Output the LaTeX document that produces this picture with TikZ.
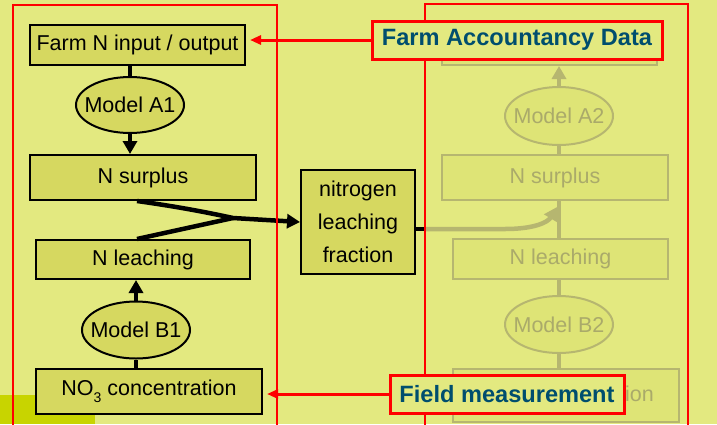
\documentclass[tikz,border=0pt]{standalone}
\usepackage{fontspec}
\setmainfont{Liberation Sans}
\usetikzlibrary{arrows.meta,shapes.geometric,calc}

\definecolor{bgcol}{RGB}{227,233,128}
\definecolor{cornercol}{RGB}{200,212,0}
\definecolor{boxcol}{RGB}{214,216,96}
\definecolor{fadeline}{RGB}{182,182,112}
\definecolor{fadetext}{RGB}{170,170,106}
\definecolor{fadefill}{RGB}{222,228,118}
\definecolor{labeltext}{RGB}{0,78,110}
\definecolor{framered}{RGB}{255,0,0}

% chemical subscript, set low as in the slide font
\newcommand{\lowsub}[1]{\raisebox{-7pt}{\fontsize{14}{14}\selectfont #1}}

\begin{document}
\begin{tikzpicture}[x=1pt,y=-1pt,
  every node/.style={font=\fontsize{21.5}{33}\selectfont, inner sep=0pt},
  box/.style={draw=black, line width=2pt, fill=boxcol, rectangle},
  oval/.style={draw=black, line width=2pt, fill=boxcol, ellipse},
  conn/.style={line width=4.5pt, draw=black},
  arr/.style={conn, -{Triangle[length=13pt,width=14pt]}},
  fbox/.style={draw=fadeline, line width=2pt, fill=fadefill, text=fadetext, rectangle},
  foval/.style={fbox, ellipse},
  fconn/.style={line width=4.5pt, draw=fadeline},
  farr/.style={fconn, -{Triangle[length=13pt,width=14pt]}},
  frame/.style={draw=framered, line width=2pt},
  tag/.style={draw=framered, line width=3pt, fill=bgcol, text=labeltext,
    font=\fontsize{23.6}{28}\selectfont\bfseries},
  tagarr/.style={draw=framered, line width=3pt,
    -{Triangle[length=11pt,width=9pt]}, shorten >=4pt},
]
\useasboundingbox (0,0) rectangle (717,424);
\clip (0,0) rectangle (717,424);

% background
\fill[bgcol] (0,0) rectangle (717,424);
\fill[cornercol] (0,395) rectangle (95,424);

% left column
\node[box, minimum width=215pt, minimum height=40pt] (farm) at (137.5,45) {Farm N input / output};
\node[oval, minimum width=108pt, minimum height=56pt] (mA1) at (130,105) {\makebox[0pt]{Model A1}};
\node[box, minimum width=226pt, minimum height=45pt] (nsur) at (143,177.5) {N surplus};
\node[box, minimum width=214pt, minimum height=39pt] (nlea) at (143,259.5) {N leaching};
\node[oval, minimum width=108pt, minimum height=57pt] (mB1) at (136,330) {\makebox[0pt]{Model B1}};
\node[box, minimum width=226pt, minimum height=45pt] (no3) at (149,391.5) {NO\lowsub{3} concentration};

% leaching fraction
\node[box, minimum width=114pt, minimum height=104pt, align=center] (frac) at (358,222)
  {nitrogen\\leaching\\fraction};

% right column (faded)
\node[fbox, minimum width=215pt, minimum height=35pt] (ftop) at (549.5,47.5) {};
\node[foval, minimum width=108pt, minimum height=58pt] (mA2) at (559,116) {\makebox[0pt]{Model A2}};
\node[fbox, minimum width=226pt, minimum height=45pt] (fsur) at (555,177.5) {N surplus};
\node[fbox, minimum width=215pt, minimum height=40pt] (flea) at (560.5,259) {N leaching};
\node[foval, minimum width=108pt, minimum height=57pt] (mB2) at (559,324.5) {\makebox[0pt]{Model B2}};
\node[fbox, minimum width=226pt, minimum height=53pt] (fno3) at (566,395.5) {};
\node[text=fadetext, anchor=base east] (fno3txt) at (654,401) {ion};

% left connectors
\draw[conn] (farm.south -| mA1) -- (mA1.north);
\draw[arr] (mA1.south) -- (mA1.south |- nsur.north);
\draw[arr] (mB1.north) -- (mB1.north |- nlea.south);
\draw[conn] (no3.north -| mB1) -- (mB1.south);
\coordinate (J) at (233,218);
\draw[arr, line join=round] ([xshift=-6pt]nsur.south) .. controls (180,207) and (210,213) .. (J) -- (frac.west);
\draw[conn, line join=round] ([xshift=-6pt]nlea.north) -- (J);

% right connectors (faded)
\draw[farr] (mA2.north) -- (mA2.north |- ftop.south);
\draw[fconn] (mA2.south) -- (mA2.south |- fsur.north);
\draw[fconn] (fsur.south -| mA2) -- (flea.north -| mA2);
\draw[fconn] (mB2.north) -- (mB2.north |- flea.south);
\draw[fconn] (mB2.south) -- (mB2.south |- fno3.north);

\coordinate (gap) at (425,229);
\coordinate (tipR) at (557,207);
\draw[farr] (gap) -- (505,229) .. controls (535,229) and (548,222) .. (tipR);
\draw[conn] ([yshift=-7pt]frac.east) -- (gap);

% frames
\draw[frame] (13,440) -- (13,5) -- (277,5) -- (277,440);
\draw[frame] (425,440) -- (425,4) -- (688,4) -- (688,440);

% data source tags
\node[tag, minimum width=290pt, minimum height=38pt] (fad) at (517,40) {Farm Accountancy Data};
\node[tag, minimum width=234pt, minimum height=38pt] (fm) at (507,394) {Field measurement};
\draw[tagarr] (fad.west) -- (fad.west -| farm.east);
\draw[tagarr] (fm.west) -- (fm.west -| no3.east);
\end{tikzpicture}
\end{document}
